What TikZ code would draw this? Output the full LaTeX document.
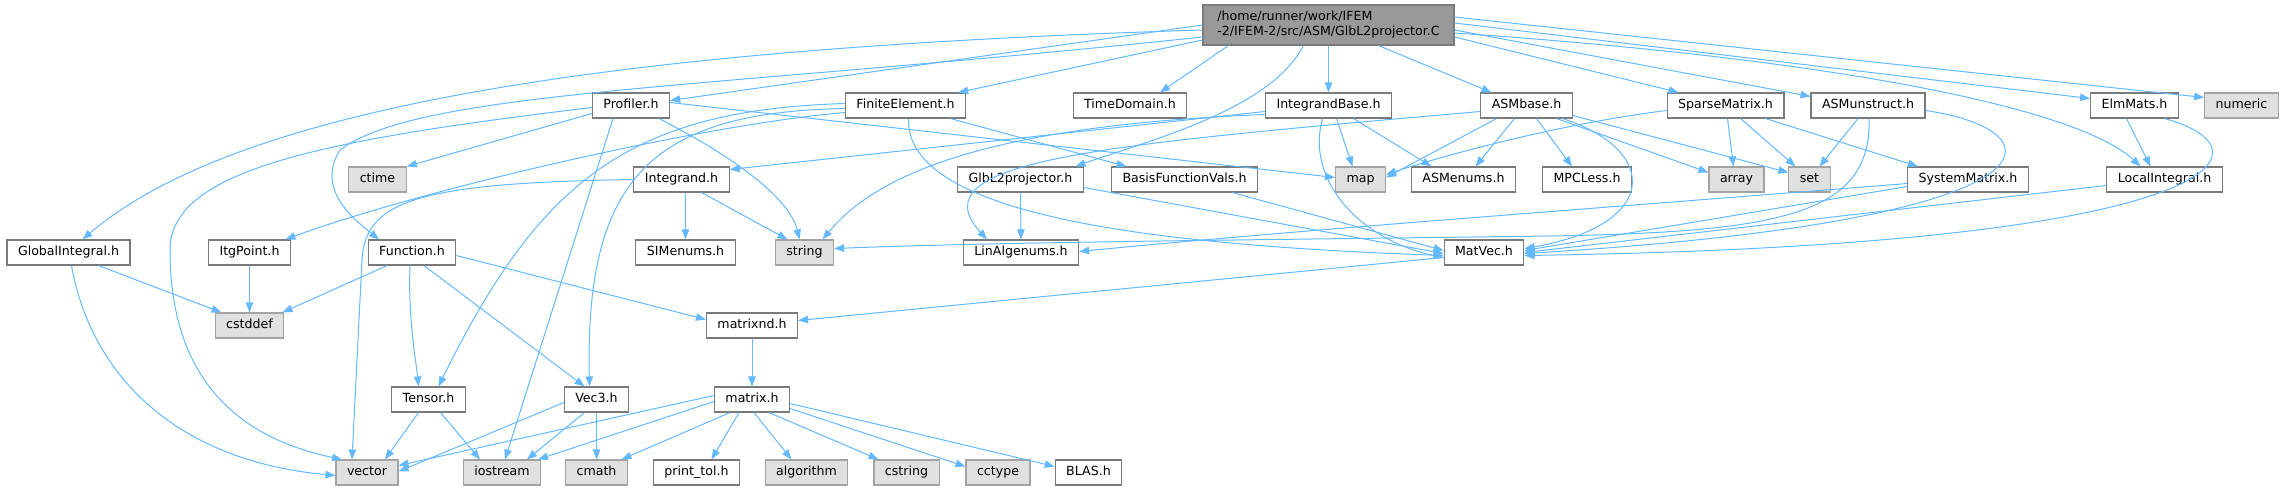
\documentclass[tikz,border=0pt]{standalone}
\usepackage{fontspec}
\setmainfont{DejaVu Sans}
\usetikzlibrary{arrows.meta}

\definecolor{edgeblue}{HTML}{63B8FF}
\definecolor{boxline}{HTML}{7A7A7A}
\definecolor{sysfill}{HTML}{E0E0E0}
\definecolor{sysline}{HTML}{A3A3A3}
\definecolor{rootfill}{HTML}{999999}

\tikzset{
  hdr/.style={draw=boxline, fill=white, line width=1.1pt,
    font=\fontsize{12.6pt}{15pt}\selectfont, inner xsep=11pt,
    text height=9.5pt, text depth=3pt, minimum height=25pt},
  sys/.style={hdr, draw=sysline, fill=sysfill},
  rootbox/.style={draw=boxline, fill=rootfill, line width=1.1pt,
    font=\fontsize{12.6pt}{15pt}\selectfont, align=left,
    inner xsep=11pt, minimum width=251pt, minimum height=40pt},
  dep/.style={draw=edgeblue, line width=1pt, -{Triangle[length=10pt,width=7.5pt]}},
}

\begin{document}
\begin{tikzpicture}[x=1pt, y=-1pt]
  \useasboundingbox (0,0) rectangle (2285,491);

  % top file
  \node[rootbox] (root) at (1328.5,25) {/home/runner/work/IFEM\\-2/IFEM-2/src/ASM/GlbL2projector.C};

  % first row
  \node[hdr] (prof)  at (631,105.5)    {Profiler.h};
  \node[hdr] (fe)    at (905.5,105.5)  {FiniteElement.h};
  \node[hdr] (tdom)  at (1130,105.5)   {TimeDomain.h};
  \node[hdr] (ibase) at (1328.5,105.5) {IntegrandBase.h};
  \node[hdr] (asmb)  at (1526.5,105.5) {ASMbase.h};
  \node[hdr] (spm)   at (1725.5,105.5) {SparseMatrix.h};
  \node[hdr] (asmu)  at (1868,105.5)   {ASMunstruct.h};
  \node[hdr] (elm)   at (2134.5,105.5) {ElmMats.h};
  \node[sys] (num)   at (2241.5,105.5) {numeric};

  % second row
  \node[sys] (ctime) at (377.5,179.5)  {ctime};
  \node[hdr] (intg)  at (681.5,179.5)  {Integrand.h};
  \node[hdr] (glbh)  at (1020.5,179.5) {GlbL2projector.h};
  \node[hdr] (bfv)   at (1184.5,179.5) {BasisFunctionVals.h};
  \node[sys] (map)   at (1360.5,179.5) {map};
  \node[hdr] (asmen) at (1463.5,179.5) {ASMenums.h};
  \node[hdr] (mpcl)  at (1587,179.5)   {MPCLess.h};
  \node[sys] (arr)   at (1736.5,179.5) {array};
  \node[sys] (nset)  at (1809.5,179.5) {set};
  \node[hdr] (sysm)  at (1968,179.5)   {SystemMatrix.h};
  \node[hdr] (lint)  at (2164.5,179.5) {LocalIntegral.h};

  % third row
  \node[hdr] (gint)  at (68.5,252.5)   {GlobalIntegral.h};
  \node[hdr] (itgp)  at (249.5,252.5)  {ItgPoint.h};
  \node[hdr] (func)  at (412,252.5)    {Function.h};
  \node[hdr] (simen) at (685.5,252.5)  {SIMenums.h};
  \node[sys] (str)   at (804.5,252.5)  {string};
  \node[hdr] (linal) at (1021,252.5)   {LinAlgenums.h};
  \node[hdr] (mvec)  at (1484,252.5)   {MatVec.h};

  \node[sys] (cstd)  at (249.5,325.5)  {cstddef};
  \node[hdr] (mxnd)  at (752,325.5)    {matrixnd.h};

  \node[hdr] (tens)  at (428.5,399.5)  {Tensor.h};
  \node[hdr] (vec3)  at (596.5,399.5)  {Vec3.h};
  \node[hdr] (mat)   at (752,399.5)    {matrix.h};

  % bottom row
  \node[sys] (vect)  at (367,472.5)    {vector};
  \node[sys] (iost)  at (502,472.5)    {iostream};
  \node[sys] (cmath) at (596.5,472.5)  {cmath};
  \node[hdr] (ptol)  at (696.5,472.5)  {print\_tol.h};
  \node[sys] (algo)  at (806.5,472.5)  {algorithm};
  \node[sys] (cstr)  at (906.5,472.5)  {cstring};
  \node[sys] (ccty)  at (998,472.5)    {cctype};
  \node[hdr] (blas)  at (1088.5,472.5) {BLAS.h};

  % includes of the top file
  \draw[dep] ([yshift=-5pt]root.west) .. controls (620,48) and (240,105) .. ([xshift=14pt]gint.north);
  \draw[dep] ([yshift=-12pt]root.west) .. controls (700,90) and (420,90) .. (340,150) .. controls (315,190) and (355,220) .. ([xshift=-33pt]func.north);
  \draw[dep] (root.west) -- ([yshift=5pt]prof.east);
  \draw[dep] ([yshift=-15pt]root.west) -- ([xshift=-8pt]fe.north east);
  \draw[dep] ([xshift=-100pt]root.south) -- ([xshift=30pt]tdom.north);
  \draw[dep] ([xshift=-25pt]root.south) .. controls (1270,110) and (1150,140) .. ([xshift=55pt]glbh.north);
  \draw[dep] (root.south) -- (ibase.north);
  \draw[dep] ([xshift=50pt]root.south) -- ([xshift=-35pt]asmb.north);
  \draw[dep] ([yshift=-12pt]root.east) -- ([xshift=12pt]spm.north west);
  \draw[dep] ([yshift=-5pt]root.east) -- ([yshift=-4pt]asmu.north west);
  \draw[dep] ([yshift=-8pt]root.east) .. controls (1850,60) and (2080,110) .. ([xshift=-24pt]lint.north);
  \draw[dep] ([yshift=2pt]root.east) -- ([yshift=7pt]elm.west);
  \draw[dep] ([yshift=8pt]root.east) -- ([yshift=8pt]num.west);

  % Profiler.h
  \draw[dep] ([yshift=-8pt]prof.west) -- (ctime.north east);
  \draw[dep] ([yshift=-2pt]prof.west) .. controls (320,140) and (170,170) .. (170,250) .. controls (170,390) and (250,440) .. ([xshift=-25pt]vect.north);
  \draw[dep] ([xshift=-18pt]prof.south) -- ([xshift=3pt]iost.north);
  \draw[dep] ([xshift=28pt]prof.south) .. controls (740,160) and (790,200) .. ([xshift=-5pt]str.north);
  \draw[dep] ([yshift=3pt]prof.east) -- ([yshift=2pt]map.west);

  % FiniteElement.h
  \draw[dep] ([yshift=-7pt]fe.west) .. controls (700,125) and (420,190) .. ([xshift=36pt]itgp.north);
  \draw[dep] ([yshift=2pt]fe.west) .. controls (630,110) and (540,180) .. ([xshift=10pt]tens.north);
  \draw[dep] ([yshift=-3pt]fe.west) .. controls (650,112) and (585,180) .. ([xshift=-7pt]vec3.north);
  \draw[dep] ([xshift=45pt]fe.south) -- ([xshift=-58pt]bfv.north);
  \draw[dep] ([xshift=3pt]fe.south) .. controls (905,215) and (1150,245) .. ([yshift=-3pt]mvec.west);

  % IntegrandBase.h
  \draw[dep] ([yshift=-6pt]ibase.west) -- ([yshift=10pt]intg.east);
  \draw[dep] ([yshift=-9pt]ibase.west) .. controls (1000,125) and (880,170) .. ([xshift=18pt]str.north);
  \draw[dep] ([xshift=8pt]ibase.south) -- ([xshift=-8pt]map.north);
  \draw[dep] ([xshift=25pt]ibase.south) -- ([xshift=-32pt]asmen.north);
  \draw[dep] ([xshift=-6pt]ibase.south) .. controls (1305,180) and (1360,240) .. ([yshift=-5pt]mvec.west);

  % ASMbase.h
  \draw[dep] ([yshift=-6pt]asmb.west) .. controls (1100,145) and (915,160) .. ([xshift=-34pt]linal.north);
  \draw[dep] ([xshift=-30pt]asmb.south) -- ([yshift=2pt]map.east);
  \draw[dep] ([xshift=-12pt]asmb.south) -- ([xshift=12pt]asmen.north);
  \draw[dep] ([xshift=10pt]asmb.south) -- ([xshift=-15pt]mpcl.north);
  \draw[dep] ([xshift=30pt]asmb.south) -- ([yshift=7pt]arr.west);
  \draw[dep] ([yshift=-10pt]asmb.east) -- ([yshift=7pt]nset.west);
  \draw[dep] ([xshift=36pt]asmb.south) .. controls (1660,150) and (1660,225) .. ([yshift=4pt]mvec.east);

  % SparseMatrix.h
  \draw[dep] ([yshift=-5pt]spm.west) .. controls (1550,125) and (1430,160) .. ([yshift=5pt]map.east);
  \draw[dep] ([xshift=2pt]spm.south) -- ([xshift=-3pt]arr.north);
  \draw[dep] ([xshift=15pt]spm.south) -- ([xshift=-14pt]nset.north);
  \draw[dep] ([xshift=40pt]spm.south) -- ([xshift=-50pt]sysm.north);

  % ASMunstruct.h
  \draw[dep] ([xshift=-10pt]asmu.south) -- ([xshift=10pt]nset.north);
  \draw[dep] ([xshift=1pt]asmu.south) .. controls (1872,215) and (1780,232) .. (1550,236) .. controls (1250,240) and (1000,242) .. ([yshift=4pt]str.east);
  \draw[dep] ([yshift=-5pt]asmu.east) .. controls (2060,130) and (2080,220) .. ([yshift=-1pt]mvec.east);

  % SystemMatrix.h, LocalIntegral.h, ElmMats.h
  \draw[dep] ([yshift=-4pt]sysm.west) .. controls (1550,212) and (1300,230) .. ([yshift=1pt]linal.east);
  \draw[dep] ([yshift=-7pt]sysm.west) -- ([yshift=2pt]mvec.east);
  \draw[dep] ([yshift=-6pt]lint.west) -- (mvec.east);
  \draw[dep] ([xshift=-8pt]elm.south) -- ([xshift=-14pt]lint.north);
  \draw[dep] ([xshift=30pt]elm.south) .. controls (2280,150) and (2230,245) .. ([yshift=-3pt]mvec.east);

  % GlbL2projector.h, BasisFunctionVals.h
  \draw[dep] (glbh.south) -- (linal.north);
  \draw[dep] ([yshift=-8pt]glbh.east) -- ([yshift=-1pt]mvec.west);
  \draw[dep] ([xshift=48pt]bfv.south) -- ([yshift=2pt]mvec.west);

  % Integrand.h
  \draw[dep] (intg.west) .. controls (420,183) and (365,200) .. (362,260) -- ([xshift=-15pt]vect.north);
  \draw[dep] ([xshift=4pt]intg.south) -- (simen.north);
  \draw[dep] ([xshift=20pt]intg.south) -- ([xshift=-17pt]str.north);

  % MatVec.h, matrixnd.h
  \draw[dep] ([yshift=-5pt]mvec.west) -- ([yshift=5pt]mxnd.east);
  \draw[dep] (mxnd.south) -- (mat.north);

  % matrix.h
  \draw[dep] ([yshift=4pt]mat.west) -- ([yshift=7pt]vect.east);
  \draw[dep] ([yshift=-2pt]mat.west) -- ([xshift=36pt]iost.north);
  \draw[dep] ([xshift=-22pt]mat.south) -- ([xshift=25pt]cmath.north);
  \draw[dep] ([xshift=-13pt]mat.south) -- ([xshift=15pt]ptol.north);
  \draw[dep] ([xshift=2pt]mat.south) -- ([xshift=-15pt]algo.north);
  \draw[dep] ([xshift=17pt]mat.south) -- ([xshift=-28pt]cstr.north);
  \draw[dep] ([yshift=-9pt]mat.east) -- ([yshift=6pt]ccty.west);
  \draw[dep] ([yshift=-4pt]mat.east) -- ([yshift=6pt]blas.west);

  % Tensor.h, Vec3.h
  \draw[dep] ([xshift=-10pt]tens.south) -- ([xshift=18pt]vect.north);
  \draw[dep] ([xshift=12pt]tens.south) -- ([xshift=-22pt]iost.north);
  \draw[dep] ([yshift=-3pt]vec3.west) -- ([yshift=1pt]vect.east);
  \draw[dep] ([xshift=-12pt]vec3.south) -- ([xshift=25pt]iost.north);
  \draw[dep] (vec3.south) -- (cmath.north);

  % Function.h
  \draw[dep] ([xshift=-25pt]func.south) -- ([xshift=33pt]cstd.north);
  \draw[dep] ([xshift=-2pt]func.south) .. controls (408,320) and (416,360) .. ([xshift=-10pt]tens.north);
  \draw[dep] ([xshift=12pt]func.south) -- ([xshift=-12pt]vec3.north);
  \draw[dep] ([yshift=-3pt]func.east) -- ([yshift=6pt]mxnd.west);

  % GlobalIntegral.h, ItgPoint.h
  \draw[dep] ([xshift=30pt]gint.south) -- ([xshift=-28pt]cstd.north);
  \draw[dep] ([xshift=3pt]gint.south) .. controls (90,370) and (170,460) .. ([yshift=-3pt]vect.west);
  \draw[dep] (itgp.south) -- (cstd.north);
\end{tikzpicture}
\end{document}
